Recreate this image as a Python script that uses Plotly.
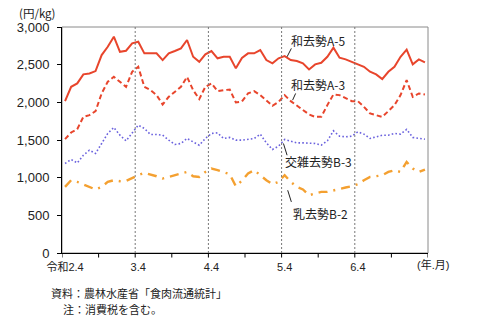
import plotly.graph_objects as go

# Monthly wholesale prices (円/kg), 令和2年4月 – 令和7年3月
months = list(range(60))
tick_pos = [0, 12, 24, 36, 48]
tick_text = ["令和2.4", "3.4", "4.4", "5.4", "6.4"]

wagyu_a5 = [2016, 2206, 2251, 2371, 2384, 2415, 2627, 2738, 2871, 2671,
            2685, 2783, 2804, 2650, 2650, 2650, 2561, 2650, 2681, 2716,
            2827, 2605, 2538, 2637, 2681, 2584, 2605, 2605, 2451, 2588,
            2650, 2650, 2694, 2561, 2517, 2584, 2614, 2561, 2548, 2517,
            2437, 2504, 2525, 2605, 2725, 2592, 2570, 2538, 2508, 2472,
            2406, 2371, 2308, 2406, 2472, 2605, 2700, 2504, 2570, 2530]

wagyu_a3 = [1511, 1600, 1644, 1807, 1830, 1883, 2118, 2273, 2339, 2273,
            2206, 2406, 2472, 2206, 2162, 2096, 1972, 2073, 2140, 2206,
            2339, 2162, 2043, 2206, 2251, 2149, 2162, 2170, 1999, 2012,
            2118, 2149, 2096, 2029, 1954, 2007, 2096, 2016, 1954, 1897,
            1839, 1807, 1807, 1963, 2105, 2096, 2060, 2016, 2016, 1941,
            1852, 1830, 1807, 1883, 1963, 2096, 2295, 2073, 2118, 2105]

cross_b3 = [1188, 1241, 1196, 1298, 1365, 1321, 1454, 1587, 1667, 1564,
            1489, 1587, 1697, 1653, 1573, 1573, 1564, 1498, 1441, 1454,
            1520, 1475, 1431, 1520, 1587, 1595, 1520, 1534, 1498, 1498,
            1507, 1520, 1578, 1462, 1374, 1418, 1507, 1489, 1462, 1462,
            1454, 1454, 1431, 1489, 1622, 1551, 1542, 1551, 1608, 1578,
            1520, 1542, 1564, 1564, 1587, 1578, 1640, 1534, 1520, 1511]

dairy_b2 = [877, 966, 944, 913, 877, 843, 877, 944, 966, 953,
            957, 997, 1033, 1063, 1042, 1019, 989, 1010, 1033, 1046,
            1076, 1019, 1010, 1076, 1122, 1099, 1076, 1046, 886, 962,
            1055, 1099, 1033, 966, 913, 944, 1033, 944, 877, 843,
            767, 789, 811, 811, 833, 856, 869, 886, 913, 966,
            1010, 1019, 1033, 1076, 1099, 1076, 1209, 1122, 1076, 1108]

RED = "#E8452C"
BLUE = "#6B62DE"
ORANGE = "#F4A030"
FONT = "Liberation Sans, Arial, Noto Sans CJK JP"
JP = "Noto Sans CJK JP, Liberation Sans"

fig = go.Figure()
fig.add_trace(go.Scatter(x=months, y=wagyu_a5, mode="lines",
                         line=dict(color=RED, width=2)))
fig.add_trace(go.Scatter(x=months, y=wagyu_a3, mode="lines",
                         line=dict(color=RED, width=2, dash="5px,3px")))
fig.add_trace(go.Scatter(x=months, y=cross_b3, mode="lines",
                         line=dict(color=BLUE, width=1.6, dash="1.6px,2.2px")))
fig.add_trace(go.Scatter(x=months, y=dairy_b2, mode="lines",
                         line=dict(color=ORANGE, width=2.4, dash="9px,6px,2px,6px")))

shapes = []
# plot frame (top/right in grey)
shapes.append(dict(type="rect", xref="paper", yref="paper", x0=0, x1=1, y0=0, y1=1,
                   line=dict(color="#8a8a8a", width=1), layer="below"))
# fiscal-year separators
for xv in [11.5, 23.5, 35.5, 47.5]:
    shapes.append(dict(type="line", xref="x", yref="paper", x0=xv, x1=xv, y0=0, y1=1,
                       line=dict(color="#777777", width=1, dash="2px,2px")))
# x-axis tick marks between categories
for k in range(11):
    xv = -0.5 + 6 * k
    shapes.append(dict(type="line", xref="x", yref="paper", x0=xv, x1=xv, y0=0, y1=-0.02,
                       line=dict(color="black", width=1)))

# series labels with leader lines
labels = [
    ("和去勢A-5", 41.4, 2827, (37.1, 2716), (36.4, 2605)),
    ("和去勢A-3", 41.4, 2242, (37.8, 2118), (37.3, 2029)),
    ("交雑去勢B-3", 41.6, 1212, (35.8, 1454), (36.4, 1298)),
    ("乳去勢B-2", 41.8, 528, (36.5, 833), (37.1, 678)),
]
annotations = []
for text, lx, ly, p0, p1 in labels:
    annotations.append(dict(x=lx, y=ly, xref="x", yref="y", text=text, showarrow=False,
                             font=dict(family=JP, size=12, color="#222222"),
                             xanchor="center", yanchor="middle"))
    shapes.append(dict(type="line", xref="x", yref="y", x0=p0[0], y0=p0[1], x1=p1[0], y1=p1[1],
                       line=dict(color="#222222", width=1)))

annotations.append(dict(x=-0.067, y=1.06, xref="paper", yref="paper", text="(円/kg)",
                        showarrow=False, font=dict(family=JP, size=11.5, color="#222222"),
                        xanchor="center", yanchor="middle"))
annotations.append(dict(x=1.013, y=-0.05, xref="paper", yref="paper", text="(年.月)",
                        showarrow=False, font=dict(family=FONT, size=11, color="#222222"),
                        xanchor="center", yanchor="middle"))
# source and note lines
annotations.append(dict(x=-0.032, y=-0.179, xref="paper", yref="paper",
                        text="資料：農林水産省「食肉流通統計」",
                        showarrow=False, borderpad=0,
                        font=dict(family=JP, size=11, color="#222222"),
                        xanchor="left", yanchor="middle"))
annotations.append(dict(x=0.001, y=-0.248, xref="paper", yref="paper",
                        text="注：消費税を含む。",
                        showarrow=False, borderpad=0,
                        font=dict(family=JP, size=11, color="#222222"),
                        xanchor="left", yanchor="middle"))

fig.update_layout(
    width=480, height=330,
    margin=dict(l=62, r=52, t=27, b=77),
    paper_bgcolor="white", plot_bgcolor="white",
    showlegend=False,
    font=dict(family=FONT, color="#222222"),
    shapes=shapes, annotations=annotations,
    xaxis=dict(range=[-0.5, 59.5], tickmode="array", tickvals=tick_pos, ticktext=tick_text,
               showgrid=False, zeroline=False, showline=True, linecolor="black", linewidth=1,
               ticks="outside", ticklen=4, tickcolor="rgba(0,0,0,0)",
               tickfont=dict(family=FONT, size=11, color="#222222")),
    yaxis=dict(range=[0, 3000], tickmode="array", tickvals=[0, 500, 1000, 1500, 2000, 2500, 3000],
               tickformat=",", showgrid=False, zeroline=False, showline=True, linecolor="black",
               linewidth=1, ticks="outside", ticklen=4, tickcolor="black",
               ticklabelstandoff=5,
               tickfont=dict(family=FONT, size=13, color="#222222")),
)

fig.write_html("out.html")
